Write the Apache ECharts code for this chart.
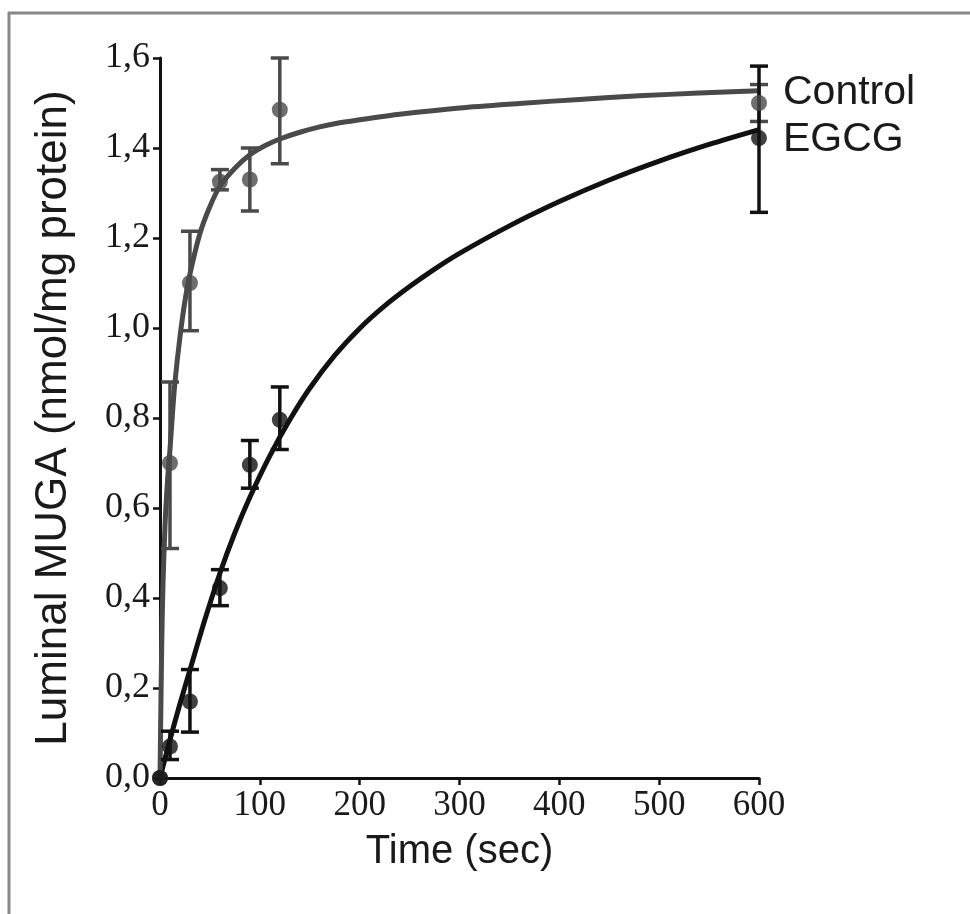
<!DOCTYPE html>
<html>
<head>
<meta charset="utf-8">
<script src="https://cdn.jsdelivr.net/npm/echarts@6/dist/echarts.min.js"></script>
<style>
html,body{margin:0;padding:0;background:#fff;}
#chart{width:970px;height:914px;}
</style>
</head>
<body>
<div id="chart"></div>
<script>
// Measured points (time in sec, MUGA nmol/mg)
const controlPoints = [[0,0],[10,0.70],[30,1.10],[60,1.325],[90,1.33],[120,1.485],[600,1.50]];
const egcgPoints    = [[0,0],[10,0.07],[30,0.17],[60,0.422],[90,0.696],[120,0.796],[600,1.422]];
// Error bars [time, low, high]
const controlErr = [[10,0.51,0.88],[30,0.994,1.215],[60,1.307,1.352],[90,1.26,1.40],[120,1.365,1.60],[600,1.459,1.541]];
const egcgErr    = [[10,0.041,0.104],[30,0.102,0.241],[60,0.383,0.463],[90,0.644,0.75],[120,0.73,0.869],[600,1.257,1.582]];
// Fitted curves
const controlFit = [[0,0],[1,0.18],[2,0.33],[3,0.43],[5,0.56],[7.5,0.66],[10,0.73],[12.5,0.81],[15,0.88],[20,0.98],[25,1.06],[30,1.12],[40,1.21],[50,1.27],[60,1.315],[75,1.355],[90,1.385],[105,1.405],[120,1.42],[140,1.435],[160,1.447],[180,1.456],[210,1.466],[240,1.475],[300,1.489],[360,1.499],[420,1.508],[480,1.516],[540,1.522],[600,1.527]];
const egcgFit    = [[0,0],[10,0.085],[20,0.165],[30,0.24],[45,0.352],[60,0.455],[75,0.545],[90,0.624],[110,0.716],[130,0.796],[150,0.866],[175,0.939],[200,0.999],[225,1.049],[250,1.092],[275,1.131],[300,1.166],[350,1.227],[400,1.281],[450,1.329],[500,1.371],[550,1.408],[600,1.441]];
const seriesNames = ['Control','EGCG'];
const xTitle = 'Time (sec)';
const yTitle = 'Luminal MUGA (nmol/mg protein)';

const chart = echarts.init(document.getElementById('chart'));

function errItem(color){
  return function(params, api){
    const x = api.value(0);
    const lo = api.coord([x, api.value(1)]);
    const hi = api.coord([x, api.value(2)]);
    const w = 9;
    const st = {stroke: color, lineWidth: 3.5};
    return {type:'group', children:[
      {type:'line', shape:{x1:lo[0],y1:lo[1],x2:hi[0],y2:hi[1]}, style:st},
      {type:'line', shape:{x1:lo[0]-w,y1:lo[1],x2:lo[0]+w,y2:lo[1]}, style:st},
      {type:'line', shape:{x1:hi[0]-w,y1:hi[1],x2:hi[0]+w,y2:hi[1]}, style:st}
    ]};
  };
}

const cGrey = '#4a4a4a', cBlack = '#111111';
const serif = '"Liberation Serif", "DejaVu Serif", serif';
const sans = '"Liberation Sans", Arial, sans-serif';

chart.setOption({
  animation:false,
  backgroundColor:'#fff',
  grid:{left:160, right:211, top:58, bottom:136, containLabel:false},
  xAxis:{
    type:'value', min:0, max:600, interval:100,
    name:xTitle, nameLocation:'middle', nameGap:54,
    nameTextStyle:{fontFamily:sans, fontSize:40, color:'#1a1a1a'},
    axisLine:{show:true, lineStyle:{color:'#111', width:3}},
    axisTick:{show:true, length:7, lineStyle:{color:'#111', width:2.5}},
    axisLabel:{fontFamily:serif, fontSize:35, color:'#1a1a1a', margin:10},
    splitLine:{show:false}
  },
  yAxis:{
    type:'value', min:0, max:1.6, interval:0.2,
    name:yTitle, nameLocation:'middle', nameGap:84,
    nameTextStyle:{fontFamily:sans, fontSize:44, color:'#1a1a1a'},
    axisLine:{show:true, lineStyle:{color:'#111', width:3}},
    axisTick:{show:true, length:7, lineStyle:{color:'#111', width:2.5}},
    axisLabel:{fontFamily:serif, fontSize:36, color:'#1a1a1a', margin:10,
      formatter:function(v){return v.toFixed(1).replace('.',',');}},
    splitLine:{show:false}
  },
  graphic:[
    {type:'line', shape:{x1:8,y1:13,x2:970,y2:13}, style:{stroke:'#888', lineWidth:3}},
    {type:'line', shape:{x1:9,y1:12,x2:9,y2:914}, style:{stroke:'#888', lineWidth:3}}
  ],
  series:[
    {name:seriesNames[1], type:'line', data:egcgFit, smooth:0.3, showSymbol:false,
      lineStyle:{color:cBlack, width:5}, itemStyle:{color:cBlack}, z:3,
      endLabel:{show:true, formatter:seriesNames[1], fontFamily:sans, fontSize:41, color:'#1a1a1a', distance:24, offset:[0,10]}},
    {name:seriesNames[0], type:'line', data:controlFit, smooth:0.3, showSymbol:false,
      lineStyle:{color:cGrey, width:5}, itemStyle:{color:cGrey}, z:3,
      endLabel:{show:true, formatter:seriesNames[0], fontFamily:sans, fontSize:41, color:'#1a1a1a', distance:24, offset:[0,2]}},
    {type:'custom', data:controlErr, renderItem:errItem(cGrey), z:4},
    {type:'custom', data:egcgErr, renderItem:errItem(cBlack), z:4},
    {type:'scatter', data:controlPoints, symbolSize:16, itemStyle:{color:cGrey}, z:5},
    {type:'scatter', data:egcgPoints, symbolSize:16, itemStyle:{color:cBlack}, z:5}
  ]
});
</script>
</body>
</html>
